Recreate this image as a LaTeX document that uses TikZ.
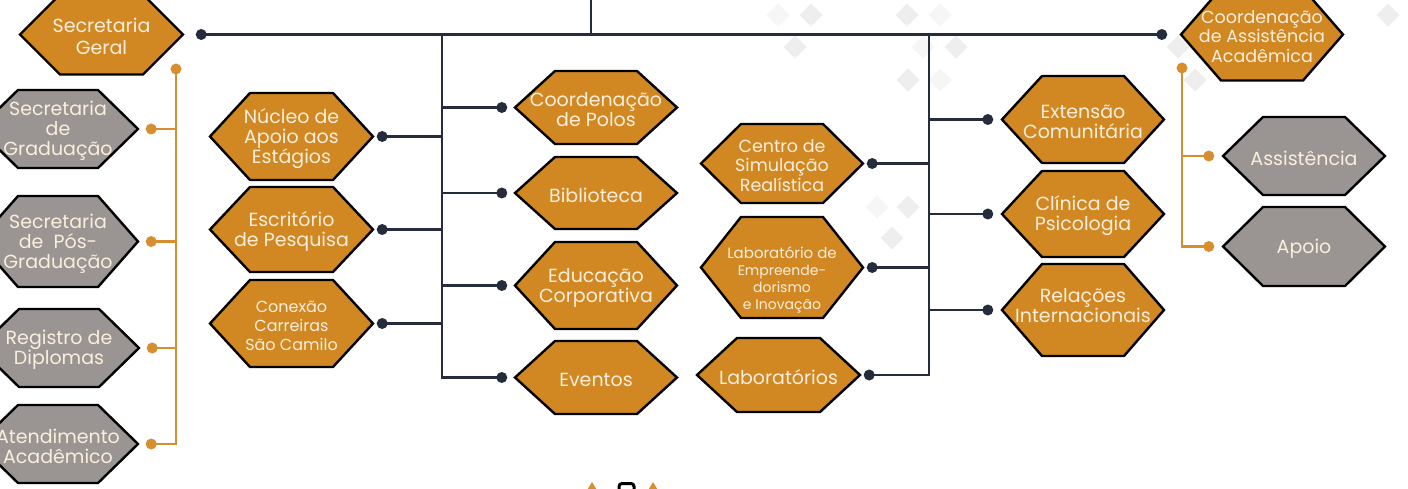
\documentclass[tikz,border=0pt]{standalone}
\usepackage{fontspec}
\setmainfont{Poppins}
\definecolor{hexorange}{RGB}{209,136,34}
\definecolor{hexgray}{RGB}{154,149,146}
\definecolor{txt}{RGB}{250,238,220}
\definecolor{navy}{RGB}{37,44,59}
\definecolor{ocline}{RGB}{214,142,46}
\definecolor{diamA}{RGB}{238,238,238}
\definecolor{diamB}{RGB}{246,246,246}
\newcommand\hexbox[8]{%
  \path[hexline,fill=#6] (#2-#4,#3) -- (#2-#4+40,#3-#5) -- (#2+#4-40,#3-#5) -- (#2+#4,#3) -- (#2+#4-40,#3+#5) -- (#2-#4+40,#3+#5) -- cycle;
  \node[hexarea,minimum width=2*#4,minimum height=2*#5] (#1) at (#2,#3) {};
  \node[hextext,#8] (#1-txt) at (#2,#3) {#7};
}
\newcommand\bgdiam[3]{\fill[#3] (#1,#2-11.5) -- (#1+11.5,#2) -- (#1,#2+11.5) -- (#1-11.5,#2) -- cycle;}
\begin{document}
\begin{tikzpicture}[x=1pt,y=-1pt,
  hexline/.style={draw=black,line width=2.4pt,line join=miter},
  hextext/.style={text=txt,align=center,inner sep=0pt,yshift=-2pt,font=\fontsize{19}{20}\selectfont},
  smalltext/.style={font=\fontsize{16}{19}\selectfont},
  midtext/.style={font=\fontsize{17.5}{19.5}\selectfont},
  hexarea/.style={rectangle,inner sep=0pt,draw=none},
  bus/.style={draw=navy,line width=2.8pt},
  obus/.style={draw=ocline,line width=2.8pt},
  ndot/.style={fill=navy},
  odot/.style={fill=ocline}]
\useasboundingbox (0,0) rectangle (1408,489);
\clip (0,0) rectangle (1408,489);
\fill[white] (0,0) rectangle (1408,489);
% background diamonds
\bgdiam{778}{15}{diamB}
\bgdiam{811}{15}{diamA}
\bgdiam{795}{47}{diamA}
\bgdiam{907}{15}{diamA}
\bgdiam{940}{15}{diamB}
\bgdiam{923}{47}{diamB}
\bgdiam{956}{47}{diamA}
\bgdiam{908}{80}{diamA}
\bgdiam{940}{80}{diamB}
\bgdiam{877}{207}{diamB}
\bgdiam{908}{207}{diamA}
\bgdiam{892}{238}{diamA}
\bgdiam{1388}{15}{diamA}
\bgdiam{1178}{47}{diamA}
\bgdiam{1195}{80}{diamA}
% boxes
\hexbox{secgeral}{101.5}{34.5}{81.5}{40}{hexorange}{Secretaria\\Geral}{font=\fontsize{19}{22}\selectfont}
\hexbox{grad}{58}{129}{80}{39}{hexgray}{Secretaria\\de\\Graduação}{}
\hexbox{posgrad}{58}{241.5}{80}{45.5}{hexgray}{Secretaria\\de~~Pós-\\Graduação}{}
\hexbox{registro}{59}{348}{80}{39}{hexgray}{Registro de\\Diplomas}{}
\hexbox{atend}{58}{444}{80}{39}{hexgray}{Atendimento\\Acadêmico}{}
\hexbox{nucleo}{291.5}{136.5}{81.5}{43.5}{hexorange}{Núcleo de\\Apoio aos\\Estágios}{}
\hexbox{escritorio}{291.5}{229.5}{81.5}{42.5}{hexorange}{Escritório\\de Pesquisa}{}
\hexbox{conexao}{291.5}{323.5}{81.5}{43.5}{hexorange}{Conexão\\Carreiras\\São Camilo}{smalltext}
\hexbox{polos}{596}{107.5}{81}{36.5}{hexorange}{Coordenação\\de Polos}{}
\hexbox{biblio}{596}{193}{81}{36}{hexorange}{Biblioteca}{}
\hexbox{educ}{596}{285.5}{81}{43.5}{hexorange}{Educação\\Corporativa}{}
\hexbox{eventos}{596}{377.5}{81}{36.5}{hexorange}{Eventos}{}
\hexbox{centro}{782}{163.5}{81}{39.5}{hexorange}{Centro de\\Simulação\\Realística}{midtext}
\hexbox{labemp}{782}{267.5}{81}{50.5}{hexorange}{Laboratório de\\{\fontsize{14}{17}\selectfont Empreende-}\\{\fontsize{14}{17}\selectfont dorismo}\\{\fontsize{14}{17}\selectfont e Inovação}}{font=\fontsize{15}{17}\selectfont,yshift=-10pt}
\hexbox{labs}{778.5}{375}{81.5}{37}{hexorange}{Laboratórios}{}
\hexbox{extensao}{1083}{119.5}{81}{43.5}{hexorange}{Extensão\\Comunitária}{}
\hexbox{clinica}{1083}{214}{81}{43}{hexorange}{Clínica de\\Psicologia}{}
\hexbox{relacoes}{1083}{310}{81}{46}{hexorange}{Relações\\Internacionais}{yshift=6pt}
\hexbox{coordassist}{1262}{34.5}{81}{46}{hexorange}{Coordenação\\de Assistência\\Acadêmica}{midtext}
\hexbox{assist}{1304}{156}{81}{39}{hexgray}{Assistência}{}
\hexbox{apoio}{1304}{246.5}{81}{39.5}{hexgray}{Apoio}{}
% dot coordinates
\coordinate (d-secgeral) at ([xshift=18pt]secgeral.east);
\coordinate (d-coordassist) at ([xshift=-19pt]coordassist.west);
\foreach \n in {nucleo,escritorio,conexao,centro,labemp,labs} {\coordinate (d-\n) at ([xshift=9pt]\n.east);}
\foreach \n in {polos,biblio,educ,eventos} {\coordinate (d-\n) at ([xshift=-13pt]\n.west);}
\foreach \n in {extensao,clinica,relacoes,assist,apoio} {\coordinate (d-\n) at ([xshift=-14pt]\n.west);}
\foreach \n in {grad,posgrad,registro,atend} {\coordinate (d-\n) at ([xshift=13pt]\n.east);}
\coordinate (stem) at (591,0);
\coordinate (busL) at (442,34.5);
\coordinate (busR) at (929,34.5);
\coordinate (obL) at (176,69);
\coordinate (obR) at (1182,68);
% navy connectors
\draw[bus] (d-secgeral) -- (d-coordassist);
\draw[bus] (stem) -- (stem |- d-secgeral);
\draw[bus] (busL) -- (busL |- d-eventos) -- (d-eventos);
\foreach \n in {polos,biblio,educ,nucleo,escritorio,conexao} {\draw[bus] (busL |- d-\n) -- (d-\n);}
\draw[bus] (busR) -- (busR |- d-labs) -- (d-labs);
\foreach \n in {centro,labemp,extensao,clinica,relacoes} {\draw[bus] (busR |- d-\n) -- (d-\n);}
\foreach \n in {secgeral,coordassist,nucleo,escritorio,conexao,polos,biblio,educ,eventos,centro,labemp,labs,extensao,clinica,relacoes} {\fill[ndot] (d-\n) circle (5.5);}
% orange connectors
\draw[obus] (obL) -- (obL |- d-atend) -- (d-atend);
\foreach \n in {grad,posgrad,registro} {\draw[obus] (obL |- d-\n) -- (d-\n);}
\draw[obus] (obR) -- (obR |- d-apoio) -- (d-apoio);
\draw[obus] (obR |- d-assist) -- (d-assist);
\fill[odot] (obL) circle (5.5);
\fill[odot] (obR) circle (5.5);
\foreach \n in {grad,posgrad,registro,atend,assist,apoio} {\fill[odot] (d-\n) circle (5.5);}
% logo fragment at bottom
\fill[ocline] (592,482) -- (598,492) -- (586,492) -- cycle;
\fill[ocline] (653,482) -- (659,492) -- (647,492) -- cycle;
\draw[black,line width=3pt,rounded corners=3pt] (619,495) -- (619,483.5) -- (634,483.5) -- (634,495);
\end{tikzpicture}
\end{document}
